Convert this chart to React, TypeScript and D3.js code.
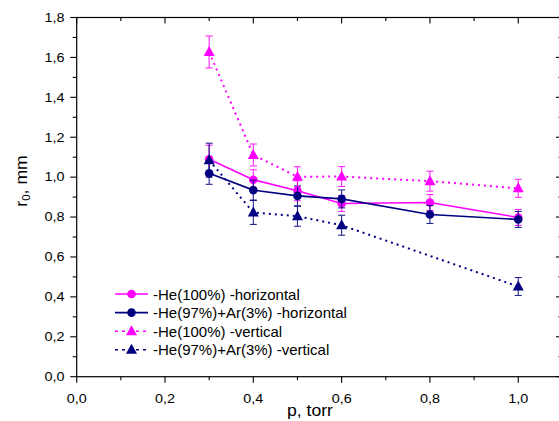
import React from "react";
import * as d3 from "d3";

const pressures = [0.3, 0.4, 0.5, 0.6, 0.8, 1.0];
const heHorizontal = [1.09, 0.987, 0.932, 0.868, 0.873, 0.798];
const heHorizontalErr = [0.07, 0.05, 0.05, 0.04, 0.04, 0.04];
const heArHorizontal = [1.019, 0.935, 0.906, 0.891, 0.813, 0.788];
const heArHorizontalErr = [0.055, 0.05, 0.05, 0.045, 0.045, 0.04];
const heVertical = [1.627, 1.111, 1.002, 1.003, 0.98, 0.944];
const heVerticalErr = [0.08, 0.055, 0.05, 0.05, 0.05, 0.045];
const heArVerticalP = [0.3, 0.4, 0.5, 0.6, 1.0];
const heArVertical = [1.085, 0.823, 0.804, 0.759, 0.452];
const heArVerticalErr = [0.085, 0.06, 0.05, 0.05, 0.045];

const xTicks = [0, 0.2, 0.4, 0.6, 0.8, 1.0];
const yTicks = [0, 0.2, 0.4, 0.6, 0.8, 1.0, 1.2, 1.4, 1.6, 1.8];
const legendLabels = [
  "-He(100%) -horizontal",
  "-He(97%)+Ar(3%) -horizontal",
  "-He(100%) -vertical",
  "-He(97%)+Ar(3%) -vertical",
];

const MAG = "#ff00ff";
const NAVY = "#000080";
const FONT = "Liberation Sans, Arial, sans-serif";

const fmt = (v: number) => v.toFixed(1).replace(".", ",");

export default function App() {
  const L = 76.7, R = 562.4, T = 17.5, B = 376.7;
  const x = d3.scaleLinear().domain([0, 1.1]).range([L, R]);
  const y = d3.scaleLinear().domain([0, 1.8]).range([B, T]);

  const series = [
    { p: pressures, v: heHorizontal, e: heHorizontalErr, color: MAG, dash: null, shape: "circle" },
    { p: pressures, v: heArHorizontal, e: heArHorizontalErr, color: NAVY, dash: null, shape: "circle" },
    { p: pressures, v: heVertical, e: heVerticalErr, color: MAG, dash: "2,4", shape: "tri" },
    { p: heArVerticalP, v: heArVertical, e: heArVerticalErr, color: NAVY, dash: "2,4", shape: "tri" },
  ];

  const line = d3.line<[number, number]>().x((d) => x(d[0])).y((d) => y(d[1]));

  const marker = (cx: number, cy: number, shape: string, color: string, key: string) =>
    shape === "circle" ? (
      <circle key={key} cx={cx} cy={cy} r={4.3} fill={color} />
    ) : (
      <path key={key} d={`M${cx},${cy - 6} L${cx + 5.5},${cy + 4} L${cx - 5.5},${cy + 4} Z`} fill={color} />
    );

  const minorX = d3.range(0, 11).map((i) => i * 0.1);
  const minorY = d3.range(0, 19).map((i) => i * 0.1);

  return (
    <svg width={559} height={421} style={{ position: "absolute", left: 0, top: 0, background: "#fff" }} fontFamily={FONT}>
      <rect width={559} height={421} fill="#fff" />
      <rect x={L} y={T} width={R - L} height={B - T} fill="none" stroke="#000" strokeWidth={1.2} />
      {minorX.map((t, i) => {
        const major = i % 2 === 0;
        return (
          <g key={"xt" + i}>
            <line x1={x(t)} x2={x(t)} y1={B} y2={B + (major ? 6 : 3.5)} stroke="#000" strokeWidth={1.1} />
            <line x1={x(t)} x2={x(t)} y1={T} y2={T + (major ? 6 : 3.5)} stroke="#000" strokeWidth={1.1} />
          </g>
        );
      })}
      {minorY.map((t, i) => {
        const major = i % 2 === 0;
        return (
          <g key={"yt" + i}>
            <line x1={L} x2={L - (major ? 6.5 : 4)} y1={y(t)} y2={y(t)} stroke="#000" strokeWidth={1.1} />
            <line x1={R} x2={R - (major ? 6.5 : 4)} y1={y(t)} y2={y(t)} stroke="#000" strokeWidth={1.1} />
          </g>
        );
      })}
      {xTicks.map((t) => (
        <text key={"xl" + t} transform={`translate(${x(t)},403) scale(1.2,1)`} fontSize={12} textAnchor="middle" fill="#000">
          {fmt(t)}
        </text>
      ))}
      {yTicks.map((t) => (
        <text key={"yl" + t} transform={`translate(64.5,${y(t) + 4.3}) scale(1.2,1)`} fontSize={12} textAnchor="end" fill="#000">
          {fmt(t)}
        </text>
      ))}
      <text transform="translate(310,416) scale(1.1,1)" fontSize={16} textAnchor="middle" fill="#000">
        p, torr
      </text>
      <text transform="translate(27,181) rotate(-90) scale(1.1,1)" fontSize={16} textAnchor="middle" fill="#000">
        r<tspan fontSize={10.5} dy={3}>0</tspan>
        <tspan dy={-3}>, mm</tspan>
      </text>
      {series.map((s, si) => {
        const pts = s.p.map((p, i) => [p, s.v[i]] as [number, number]);
        return (
          <g key={"s" + si}>
            <path d={line(pts) || ""} fill="none" stroke={s.color} strokeWidth={s.dash ? 2 : 1.6} strokeDasharray={s.dash || undefined} />
            {pts.map((d, i) => {
              const cx = x(d[0]);
              const y1 = y(d[1] + s.e[i]);
              const y2 = y(d[1] - s.e[i]);
              return (
                <g key={"e" + i} stroke={s.color} strokeWidth={1.1} opacity={0.85}>
                  <line x1={cx} x2={cx} y1={y1} y2={y2} />
                  <line x1={cx - 3.5} x2={cx + 3.5} y1={y1} y2={y1} />
                  <line x1={cx - 3.5} x2={cx + 3.5} y1={y2} y2={y2} />
                </g>
              );
            })}
            {pts.map((d, i) => marker(x(d[0]), y(d[1]), s.shape, s.color, "m" + i))}
          </g>
        );
      })}
      {series.map((s, i) => {
        const ly = 294 + i * 18.6;
        return (
          <g key={"lg" + i}>
            <line x1={115} x2={148} y1={ly} y2={ly} stroke={s.color} strokeWidth={1.6} strokeDasharray={s.dash ? "3,4" : undefined} />
            {marker(131.5, ly, s.shape, s.color, "lm" + i)}
            <text x={153} y={ly + 5.5} fontSize={15} fill="#000">
              {legendLabels[i]}
            </text>
          </g>
        );
      })}
    </svg>
  );
}
